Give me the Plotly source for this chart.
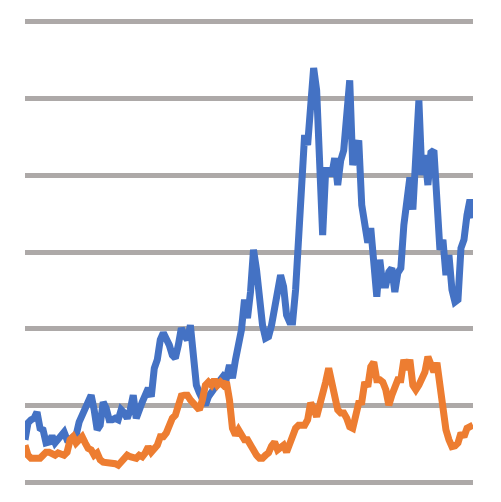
import plotly.graph_objects as go

# one sample every ~3 px across the plot (grid step = 10)
blue = [
    5.6, 7.8, 8.2, 8.4, 9.2, 7.1, 6.9, 5.2, 5.3, 6.1,
    5.2, 5.6, 6.0, 6.6, 5.6, 5.6, 6.0, 6.2, 7.9, 8.8,
    9.2, 10.4, 11.4, 9.5, 6.9, 7.5, 10.5, 9.7, 8.2, 8.2,
    8.4, 8.2, 9.5, 9.1, 8.4, 9.5, 11.4, 8.4, 9.2, 10.5,
    11.4, 12.3, 11.2, 14.9, 16.0, 18.6, 19.5, 18.8, 17.9, 16.6,
    16.2, 17.9, 20.1, 19.2, 18.6, 20.5, 15.3, 12.7, 11.7, 11.0,
    10.1, 11.2, 11.8, 12.6, 13.1, 13.4, 13.9, 13.6, 15.3, 13.6,
    16.0, 17.9, 19.9, 23.8, 21.4, 24.8, 30.3, 27.7, 23.8, 20.5,
    18.8, 19.0, 20.5, 23.1, 25.7, 27.0, 25.5, 21.8, 20.9, 20.9,
    25.1, 32.9, 36.8, 45.2, 43.9, 49.7, 53.9, 51.0, 41.9, 32.2,
    40.6, 40.6, 40.0, 42.2, 38.7, 41.9, 43.2, 48.4, 52.3, 41.3,
    43.2, 44.5, 36.1, 33.5, 31.2, 33.1, 28.6, 24.2, 29.0, 25.7,
    25.7, 27.4, 27.9, 24.8, 27.3, 27.9, 33.5, 37.4, 39.7, 35.5,
    41.3, 49.7, 40.0, 42.6, 38.7, 42.9, 43.2, 38.1, 30.3, 31.6,
    27.0, 29.6, 25.1, 23.5, 23.8, 30.5, 31.6, 34.8, 36.8, 34.4,
]

orange = [
    4.9, 3.6, 3.2, 3.2, 3.2, 3.2, 3.6, 4.0, 4.0, 3.9,
    3.6, 3.9, 3.8, 3.6, 4.0, 5.6, 6.0, 5.2, 5.6, 6.0,
    5.2, 4.5, 4.3, 3.6, 3.9, 3.0, 2.7, 2.7, 2.7, 2.7,
    2.5, 2.3, 2.7, 3.4, 3.6, 3.4, 3.4, 3.2, 3.6, 3.4,
    3.9, 4.7, 4.0, 4.5, 4.9, 6.0, 6.0, 6.5, 7.5, 8.4,
    8.8, 10.1, 11.3, 11.4, 11.4, 10.8, 10.4, 9.9, 9.5, 10.8,
    12.7, 13.1, 12.7, 13.4, 12.7, 13.1, 12.7, 13.1, 10.8, 7.1,
    6.2, 6.9, 6.0, 5.6, 5.6, 4.9, 4.0, 3.6, 3.2, 3.2,
    3.6, 3.9, 4.8, 5.3, 4.3, 4.7, 4.9, 4.0, 5.2, 6.2,
    7.1, 7.5, 7.5, 7.5, 8.2, 10.4, 9.7, 8.6, 10.1, 12.1,
    13.1, 14.9, 13.4, 11.4, 9.5, 9.1, 9.1, 8.4, 7.3, 7.1,
    9.2, 10.4, 10.5, 13.1, 12.5, 15.1, 15.7, 13.4, 13.4, 13.1,
    12.1, 10.1, 11.4, 12.7, 13.4, 13.4, 16.0, 14.7, 16.0, 12.7,
    12.1, 12.7, 13.8, 14.4, 16.4, 15.6, 14.4, 15.6, 12.7, 8.8,
    6.9, 5.6, 4.7, 4.8, 5.2, 6.5, 6.0, 7.1, 7.3, 7.5,
]

x = list(range(len(blue)))

fig = go.Figure()
fig.add_trace(go.Scatter(x=x, y=blue, mode="lines",
                         line=dict(color="#4472C4", width=7)))
fig.add_trace(go.Scatter(x=x, y=orange, mode="lines",
                         line=dict(color="#ED7D31", width=7)))

# page body has an 8px margin, so margins are shifted to compensate
fig.update_layout(
    width=501, height=502,
    margin=dict(l=17, r=36, t=10, b=24),
    paper_bgcolor="white", plot_bgcolor="white",
    showlegend=False,
)
fig.update_xaxes(range=[0, len(blue) - 1], showgrid=False, zeroline=False,
                 showticklabels=False, ticks="")
fig.update_yaxes(range=[-0.4, 60.4], tick0=0, dtick=10, showgrid=True,
                 gridcolor="#ADA9A8", gridwidth=5, zeroline=False,
                 showticklabels=False, ticks="")

fig.write_html("out.html")
